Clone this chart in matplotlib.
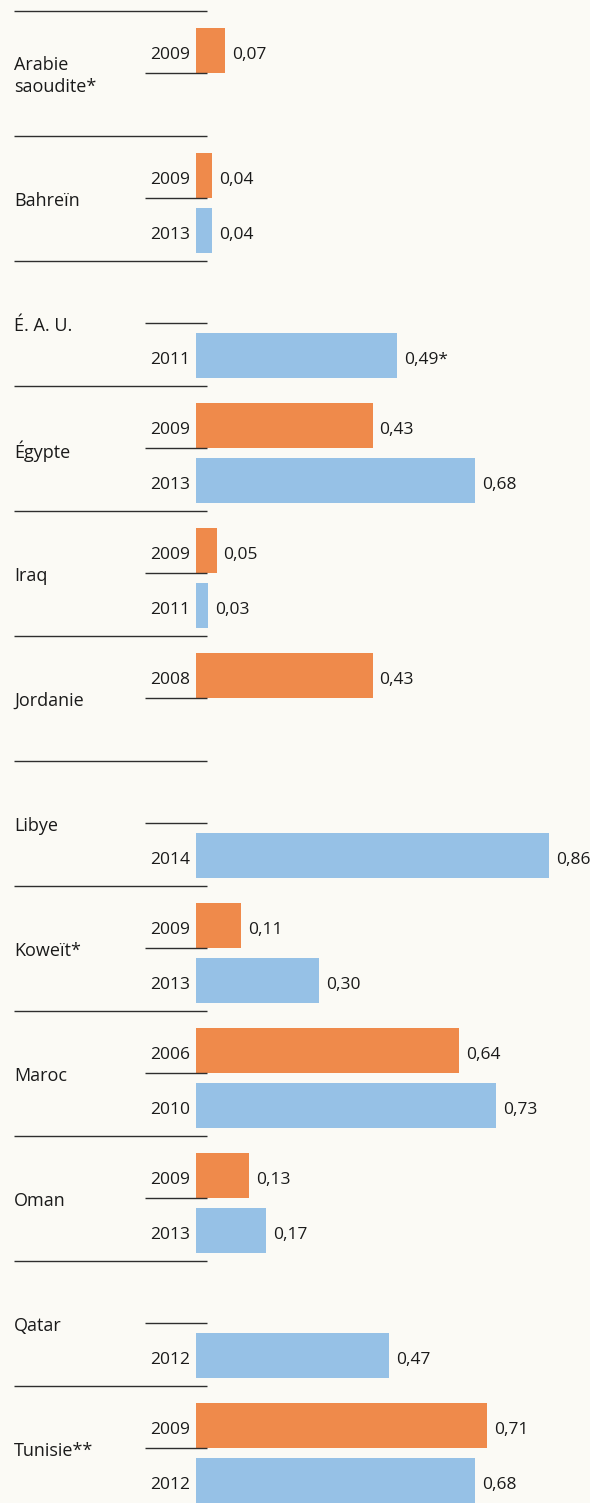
import matplotlib
matplotlib.use("Agg")
import matplotlib.pyplot as plt

# ---- data ----
countries = ["Arabie\nsaoudite*", "Bahreïn", "É. A. U.", "Égypte", "Iraq", "Jordanie",
             "Libye", "Koweït*", "Maroc", "Oman", "Qatar", "Tunisie**"]
first_years = ["2009", "2009", None, "2009", "2009", "2008",
               None, "2009", "2006", "2009", None, "2009"]
first_values = [0.07, 0.04, None, 0.43, 0.05, 0.43,
                None, 0.11, 0.64, 0.13, None, 0.71]
second_years = [None, "2013", "2011", "2013", "2011", None,
                "2014", "2013", "2010", "2013", "2012", "2012"]
second_values = [None, 0.04, 0.49, 0.68, 0.03, None,
                 0.86, 0.30, 0.73, 0.17, 0.47, 0.68]
second_notes = ["", "", "*", "", "", "", "", "", "", "", "", ""]

# ---- style ----
BG = "#FBFAF5"
ORANGE = "#EF8A4B"
BLUE = "#96C1E6"
TEXT = "#1a1a1a"
LINE = "#2e2e2e"
FONT = "Open Sans"
FS = 12.5

W, H = 590, 1503
PX_PER_UNIT = 410.5      # horizontal pixels per unit of value
X0 = 196                 # pixel where bars start
GROUP_PX = 125.0         # pixel height of one country group
TOP_PX = 11              # pixel of first separator

fig = plt.figure(figsize=(W / 100, H / 100), dpi=100, facecolor=BG)
ax = fig.add_axes([0, 0, 1, 1])
ax.set_facecolor(BG)
ax.set_xlim(-X0 / PX_PER_UNIT, (W - X0) / PX_PER_UNIT)
ax.set_ylim((H - TOP_PX) / GROUP_PX, -TOP_PX / GROUP_PX)
ax.axis("off")

px_x = 1.0 / PX_PER_UNIT
px_y = 1.0 / GROUP_PX

bar_h = 45 * px_y
slot1 = (17 + 22.5) * px_y
slot2 = (72 + 22.5) * px_y
mid = 62 * px_y

sep_left = (14 - X0) * px_x
sep_right = (207 - X0) * px_x
short_left = (145 - X0) * px_x
year_x = (190 - X0) * px_x
label_x = (14 - X0) * px_x
text_dy = 8.5 * px_y


def fmt(v):
    return f"{v:.2f}".replace(".", ",")


n = len(countries)
for i in range(n):
    # separators
    ax.plot([sep_left, sep_right], [i, i], color=LINE, lw=1.0, solid_capstyle="butt")
    ax.plot([short_left, sep_right], [i + mid, i + mid], color=LINE, lw=1.0,
            solid_capstyle="butt")
    # country label
    ax.text(label_x, i + mid + 3 * px_y, countries[i], ha="left", va="center",
            fontsize=FS + 0.5, color=TEXT, family=FONT, linespacing=1.3)
    # bars
    for yrs, vals, slot, col, notes in (
        (first_years, first_values, slot1, ORANGE, None),
        (second_years, second_values, slot2, BLUE, second_notes),
    ):
        v = vals[i]
        if v is None:
            continue
        yc = i + slot
        ax.barh(yc, v, height=bar_h, left=0, color=col, edgecolor="none")
        ax.text(year_x, yc + text_dy, yrs[i], ha="right", va="baseline",
                fontsize=FS, color=TEXT, family=FONT)
        note = notes[i] if notes else ""
        ax.text(v + 7 * px_x, yc + text_dy, fmt(v) + note, ha="left",
                va="baseline", fontsize=FS, color=TEXT, family=FONT)

# closing separator
ax.plot([sep_left, sep_right], [n, n], color=LINE, lw=1.0, solid_capstyle="butt")

fig.savefig("out.png", dpi=100, facecolor=BG)
